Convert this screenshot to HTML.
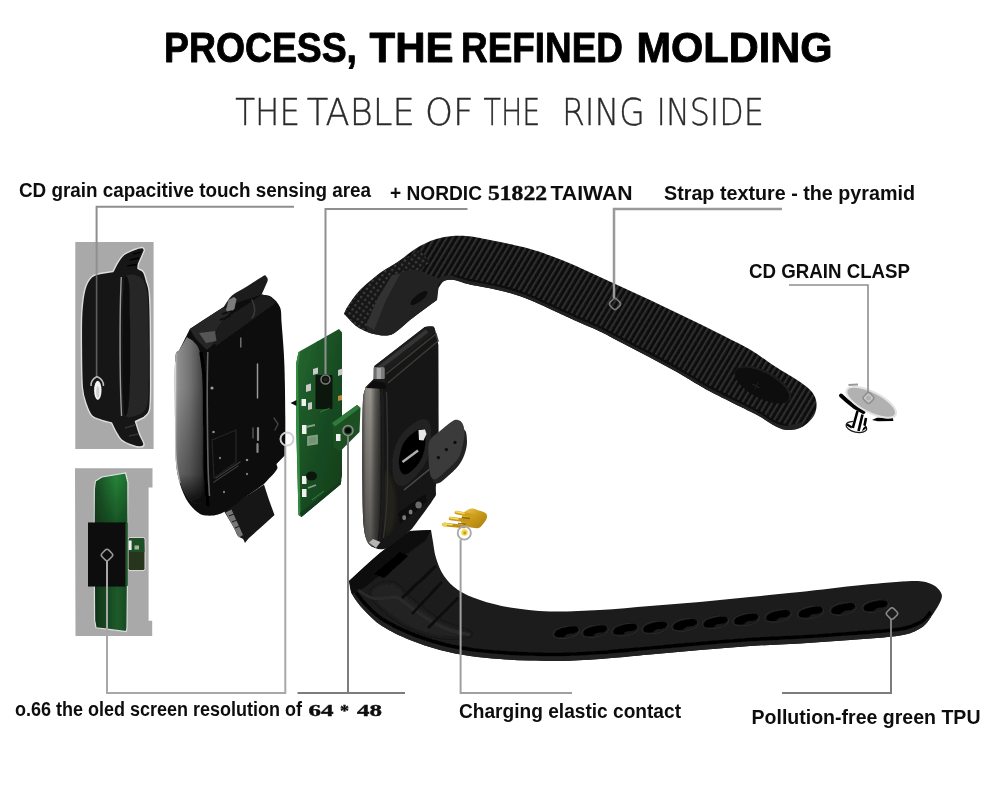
<!DOCTYPE html>
<html lang="en">
<head>
<meta charset="utf-8">
<title>Process, the refined molding</title>
<style>
html,body{margin:0;padding:0;background:#fff;}
body{width:1000px;height:789px;overflow:hidden;position:relative;font-family:"Liberation Sans",sans-serif;}
#stage{position:absolute;left:0;top:0;width:1000px;height:789px;overflow:hidden;background:#fff;}
#art{position:absolute;left:0;top:0;display:block;}
text{font-family:"Liberation Sans",sans-serif;font-weight:bold;font-size:20px;fill:#0d0d0d;stroke:none;}
text.h1{font-size:42.5px;fill:#000;stroke:#000;stroke-width:0.9px;stroke-linejoin:round;}
text.h2{stroke:#2a2a2a;stroke-width:0.35px;font-family:"DejaVu Sans Light","DejaVu Sans","Liberation Sans",sans-serif;font-weight:200;font-size:37px;fill:#2a2a2a;}
.sf{font-family:"Liberation Serif",serif;font-weight:bold;stroke:#0d0d0d;stroke-width:0.4px;}
.s17{font-size:17.5px;}
</style>
</head>
<body>
<div id="stage">
<svg id="art" width="1000" height="789" viewBox="0 0 1000 789">
<defs>
<pattern id="rib" width="5.2" height="10" patternUnits="userSpaceOnUse" patternTransform="rotate(31)">
<rect width="5.2" height="10" fill="#0e0e0e"/><rect x="0" width="2.1" height="10" fill="#2e2e2e"/>
</pattern>
<pattern id="pyr" width="5" height="5" patternUnits="userSpaceOnUse" patternTransform="rotate(35)">
<rect width="5" height="5" fill="#141414"/><rect width="2.4" height="2.4" fill="#3c3c3c"/>
</pattern>
<linearGradient id="face" x1="0" x2="1" y1="0" y2="0">
<stop offset="0" stop-color="#c4c4c4"/><stop offset="0.1" stop-color="#8e8e8e"/><stop offset="0.5" stop-color="#727272"/><stop offset="0.85" stop-color="#4a4a4a"/><stop offset="1" stop-color="#1c1c1c"/>
</linearGradient>
<linearGradient id="metal" x1="0" x2="1" y1="0" y2="0">
<stop offset="0" stop-color="#4c4a47"/><stop offset="0.2" stop-color="#8f8c85"/><stop offset="0.45" stop-color="#9a9790"/><stop offset="0.7" stop-color="#5e5c57"/><stop offset="1" stop-color="#2e2e2c"/>
</linearGradient>
<linearGradient id="pcb" x1="0" x2="1" y1="0" y2="1">
<stop offset="0" stop-color="#256a31"/><stop offset="0.45" stop-color="#1a5024"/><stop offset="1" stop-color="#123c1a"/>
</linearGradient>
<linearGradient id="pcb2" x1="0" x2="1" y1="0" y2="0">
<stop offset="0" stop-color="#164722"/><stop offset="0.65" stop-color="#258238"/><stop offset="1" stop-color="#1d6a2e"/>
</linearGradient>
<linearGradient id="pcb3" x1="0" x2="1" y1="0" y2="0">
<stop offset="0" stop-color="#0f3317"/><stop offset="0.7" stop-color="#1d5a2a"/><stop offset="1" stop-color="#174a22"/>
</linearGradient>
<linearGradient id="gold" x1="0" x2="1" y1="0" y2="1">
<stop offset="0" stop-color="#f0d050"/><stop offset="0.5" stop-color="#c89a18"/><stop offset="1" stop-color="#a87c10"/>
</linearGradient>
<linearGradient id="dk" x1="0" x2="0" y1="0" y2="1">
<stop offset="0" stop-color="#0c2411" stop-opacity="0"/><stop offset="1" stop-color="#0c2411" stop-opacity="0.5"/>
</linearGradient>
<linearGradient id="dk2" x1="0" x2="0" y1="0" y2="1">
<stop offset="0" stop-color="#000" stop-opacity="0"/><stop offset="0.3" stop-color="#000" stop-opacity="0"/><stop offset="0.82" stop-color="#000" stop-opacity="0.3"/><stop offset="1" stop-color="#000" stop-opacity="0.9"/>
</linearGradient>
<linearGradient id="dk3" x1="0" x2="0" y1="0" y2="1">
<stop offset="0" stop-color="#111" stop-opacity="0"/><stop offset="0.3" stop-color="#111" stop-opacity="0.15"/><stop offset="1" stop-color="#111" stop-opacity="0.5"/>
</linearGradient>
<filter id="soft" x="-5%" y="-5%" width="110%" height="110%"><feGaussianBlur stdDeviation="0.6"/></filter>
<filter id="soft2" x="-10%" y="-10%" width="120%" height="120%"><feGaussianBlur stdDeviation="1.4"/></filter>
</defs>
<!-- grey boxes -->
<g id="boxes">
<rect x="75.300" y="242" width="78.300" height="207" fill="#a9a9a9"/>
<path d="M75 468.3H152.5V487.5H148.6V620.7H152.2V636H75.5Z" fill="#a9a9a9"/>
</g>
<!-- side view in box 1 -->
<g id="sideview" filter="url(#soft)">
<path d="M113 271.5C114.7 268.3 116.2 264.8 118 262C119.8 259.2 121.5 256.5 124 254.5C126.5 252.5 130 251.2 133 250C136 248.8 140.1 247.5 142 247.5C143.9 247.5 143.7 249.2 144.5 250C143.5 252.3 142.5 254.7 141.5 257C140.5 259.3 139.1 262.1 138.5 264C137.9 265.9 138.2 267 138 268.5C139.8 269.7 142.1 269.9 143.5 272C144.9 274.1 145.6 277.7 146.5 281C147.4 284.3 148.6 285.5 149.2 292C149.8 298.5 150.1 304.3 150.3 320C150.5 335.7 150.7 371 150.6 386C150.5 401 150.6 404.8 149.5 410C148.4 415.2 145.8 415 144 417.5C141.2 418.8 138.3 420.2 135.5 421.5C136.8 425.7 138.1 430.2 139.5 434C140.9 437.8 143.8 441.8 144 444C144.2 446.2 142.9 446.8 141 447C139.1 447.2 135.8 446.7 132.5 445.5C129.2 444.3 124.3 442.3 121.5 440C118.7 437.7 117.5 434.3 115.8 431.5C114.1 428.7 113 425.8 111.6 423C108.3 422.1 105.1 421.5 101.8 420.3C98.5 419.1 94.5 418.6 92 416C89.5 413.4 88.1 409.8 86.5 405C84.9 400.2 83.1 397 82.3 387C81.5 377 81.5 357.5 81.4 345C81.3 332.5 81.2 321.3 81.8 312C82.4 302.7 83.4 294.8 85 289C86.6 283.2 89 279.6 91.5 277C94 274.4 96.4 274.4 100 273.5C103.6 272.6 108.7 272.2 113 271.5Z" fill="#181818" stroke="#dedede" stroke-width="1.4" stroke-linejoin="round"/>
<path d="M124 279C126.9 271.8 136.2 274.8 140 277C143.8 279.2 145.6 283.2 147 292C148.4 300.8 148.2 313.7 148.5 330C148.8 346.3 148.9 377 148.5 390C148.1 403 147.8 403.8 146 408C144.2 412.2 141.7 414 138 415C134.3 416 126.5 419.8 124 414C121.5 408.2 123.2 395.7 123 380C122.8 364.3 122.3 336.8 122.5 320C122.7 303.2 121.1 286.2 124 279Z" fill="#2b2b2b" opacity="0.75"/>
<path d="M124 279C125.1 272.8 128 276.2 129 283C130 289.8 129.8 303.8 130 320C130.2 336.2 130.3 365 130 380C129.7 395 129 404.3 128 410C127 415.7 124.9 419 124 414C123.1 409 123 395.7 122.8 380C122.5 364.3 122.3 336.8 122.5 320C122.7 303.2 122.9 285.2 124 279Z" fill="#111"/>
<path d="M121.3 277C119.6 310 119.6 380 121.6 416" fill="none" stroke="#9a9a9a" stroke-width="1.4"/>
<path d="M133 254l8 -2M130 260l9 -2M127 266l10 -1.5" stroke="#000" stroke-width="1.6" fill="none"/>
<path d="M125 428l10 -3M129 436l9 -2" stroke="#333" stroke-width="1.6" fill="none"/>
<ellipse cx="97.8" cy="390.3" rx="3.7" ry="9.6" fill="#f4f4f4"/>
<ellipse cx="97.8" cy="392" rx="1.6" ry="6" fill="#cfcfcf"/>
</g>
<!-- pcb in box 2 -->
<g id="oled" filter="url(#soft)">
<path d="M94.4 489C94.7 486.3 95.1 483.7 95.4 481C97.6 479.7 99.8 478.3 102 477C109.9 475.7 117.7 474.3 125.6 473C126.4 476.2 127.1 479.3 127.9 482.5C127.8 496.3 127.6 510.2 127.5 524C116.5 524 105.4 524 94.4 524C94.4 512.3 94.4 500.7 94.4 489Z" fill="url(#pcb2)" stroke="#e4e4e4" stroke-width="1.2"/>
<path d="M94.4 478H127.9V524H94.4Z" fill="url(#dk)"/>
<path d="M94.4 585C105.4 585 116.4 585 127.4 585C127.3 599.3 127.1 613.7 127 628C126.7 629.2 126.5 630.4 126.2 631.6C116.1 630.3 106.1 629.1 96 627.8C95.5 625.2 95.1 622.6 94.6 620C94.5 608.3 94.5 596.7 94.4 585Z" fill="url(#pcb3)" stroke="#dcdcdc" stroke-width="1.2"/>
<rect x="128" y="537.6" width="17" height="33" rx="2" fill="#27351a" stroke="#e0e0e0" stroke-width="1"/>
<path d="M129 538.5H144L144.5 552H129Z" fill="#1f4f25"/>
<rect x="128.6" y="540.5" width="3" height="9.5" fill="#f0f0f0"/>
<rect x="134.5" y="545.5" width="4.5" height="4" fill="#a9b5a0"/>
<rect x="88" y="522.5" width="37.8" height="64" fill="#07070a"/>
<rect x="125.8" y="523" width="2" height="63" fill="#1b5a2a"/>
</g>
<!-- main front case -->
<g id="frontcase" filter="url(#soft)">
<path d="M224 511C237.3 502.2 250.7 493.3 264 484.5C265.7 489.7 267.2 494.9 269 500C270.8 505.1 272.7 510 274.5 515C266 522.7 257.5 530.3 249 538C248.2 539 247.2 540.2 246.5 541C245.8 541.8 245.5 542.3 245 543C244.3 541.7 244.2 540.2 243 539C241.8 537.8 239.5 537.8 238 536C236.5 534.2 236.3 532.2 234 528C231.7 523.8 227.3 516.7 224 511Z" fill="#141414"/>
<path d="M225.5 512.5L231.5 509.5L243 535L239 537.5Z" fill="#777"/>
<path d="M229 516l5 -2M232 522l5 -2M235 528l5 -2" stroke="#222" stroke-width="1.2" fill="none"/>
<path d="M223 308C226 303.9 228.2 299.1 232 295.6C235.8 292.1 240.9 290.2 246 287C251.1 283.8 259.3 278.5 262.5 276.5C265.7 274.5 264.2 275.5 265 275C265.9 276.5 267.8 277.5 267.8 279.5C267.8 281.5 266 284.6 265 287C264 289.4 262.9 291.7 261.9 294C259.9 297.3 258 300.7 256 304C245 305.3 234 306.7 223 308Z" fill="#1e1e1e"/>
<path d="M175.2 359.7C176 348.3 177.6 353.6 179.6 349.5C181.6 345.4 185.2 338.4 186.9 335C188.6 331.6 188.8 331 189.8 329C201 321.8 212.1 314.5 223.3 307.3C236.2 303 249 298.8 261.9 294.5C265.1 295.3 268.4 294.9 271.4 297C274.4 299.1 278.3 302.9 280 307.3C281.7 311.7 281 315.8 281.6 323.3C282.2 330.8 283.3 342.9 283.8 352.4C284.3 361.8 284.6 369.1 284.8 380C285.1 390.9 285.2 405.5 285.3 418C285.4 430.5 285.2 442.7 285.2 455C282.3 458 279.4 461 276.5 464C276.5 466 278.6 466.7 276.5 470C274.4 473.3 268.2 479.3 264 484C252.7 492 237.7 502.9 230 508C222.3 513.1 222 513.2 218 514.5C214 515.8 209.3 515.8 206 515.5C202.7 515.2 201 514.8 198 512.5C195 510.2 191 506.8 188 502C185 497.2 182 491 180 484C178 477 176.6 471 175.8 460C175 449 175.1 434.7 175 418C174.9 401.3 174.4 371.1 175.2 359.7Z" fill="#0a0a0a"/>
<path d="M175.2 359.7C176 348.3 177.6 353.3 179.6 349.5C181.6 345.7 184.5 341.2 186.9 337C189.3 338.7 191.8 339.4 194 342C196.2 344.6 198.6 346.1 200 352.4C201.4 358.7 202 368.7 202.5 380C203 391.3 202.8 405 203 420C203.2 435 203.1 456.7 203.5 470C203.9 483.3 204.8 490 205.5 500C203 501.3 200.9 504.3 198 504C195.1 503.7 191 501.7 188 498C185 494.3 182 488.3 180 482C178 475.7 176.6 470.7 175.8 460C175 449.3 175.1 434.7 175 418C174.9 401.3 174.4 371.1 175.2 359.7Z" fill="url(#face)"/>
<path d="M175.2 359.7C176 348.3 177.6 353.3 179.6 349.5C181.6 345.7 184.5 341.2 186.9 337C189.3 338.7 191.8 339.4 194 342C196.2 344.6 198.6 346.1 200 352.4C201.4 358.7 202 368.7 202.5 380C203 391.3 202.8 405 203 420C203.2 435 203.1 456.7 203.5 470C203.9 483.3 204.8 490 205.5 500C203 501.3 200.9 504.3 198 504C195.1 503.7 191 501.7 188 498C185 494.3 182 488.3 180 482C178 475.7 176.6 470.7 175.8 460C175 449.3 175.1 434.7 175 418C174.9 401.3 174.4 371.1 175.2 359.7Z" fill="url(#dk2)"/>
<path d="M175.4 362C175.3 371.3 174.9 402 175 418C175.1 434 175.1 447.2 175.9 458C176.7 468.8 179.3 478.8 180 483" fill="none" stroke="#f4f4f4" stroke-width="1.4" opacity="0.55"/>
<path d="M201 352C201.6 356.7 203.8 368.7 204.5 380C205.2 391.3 204.8 405 205 420C205.2 435 205 455.7 205.5 470C206 484.3 207.6 500 208 506" fill="none" stroke="#060606" stroke-width="3.6"/>
<path d="M207.8 352C207.7 356.7 207.4 368.7 207.3 380C207.2 391.3 207.2 405 207.4 420C207.6 435 207.8 457.3 208.2 470C208.5 482.7 209.3 491.7 209.5 496" fill="none" stroke="#6c6c6c" stroke-width="1.6" opacity="0.9"/>
<path d="M189.8 329C201 321.8 212.1 314.5 223.3 307.3C226.2 307.9 232.2 306.6 232 309C231.8 311.4 224.7 318.2 222 322C219.3 325.8 217.3 328.5 216 332C214.7 335.5 215.5 340 214 343C212.5 346 209.3 347.7 207 350C203.3 346.3 198.9 342.5 196 339C193.1 335.5 191.9 332.3 189.8 329Z" fill="#262626"/>
<path d="M214 343C216.7 336 214 330.1 222 322C230 313.9 248.6 303.7 261.9 294.5C265.1 295.3 268.2 296.2 271.4 297C272.9 299 274.5 301 276 303C256 317.3 236 331.7 216 346C215.3 345 214.7 344 214 343Z" fill="#1b1b1b"/>
<path d="M226 310L228.500 300L234 297L236.500 299L234.500 309L229 313Z" fill="#7c7c7c"/>
<path d="M199 333L215 331L216.500 341L206 343Z" fill="#5a5a5a" opacity="0.9"/>
<path d="M222 314l10 -3M220 320l10 -4" stroke="#0a0a0a" stroke-width="1.600" fill="none"/>
<g fill="none" stroke-linecap="round">
<path d="M240.800 338V347" stroke="#777" stroke-width="1.400"/>
<path d="M257.500 364V398" stroke="#9a9a9a" stroke-width="1.500"/>
<path d="M252 300c4 8 3 14 0 18" stroke="#3a3a3a" stroke-width="1.500"/>
<path d="M258 428V440M257.500 444V452" stroke="#8a8a8a" stroke-width="2.200"/>
<path d="M253 428V438" stroke="#555" stroke-width="1.500"/>
<path d="M216 478L240 462M214 482L238 466" stroke="#3a3a3a" stroke-width="1.500"/>
<path d="M274 418l4 6l-3 6" stroke="#444" stroke-width="1.400"/>
<path d="M212 440L236 430V462L214 478Z" stroke="#202020" stroke-width="1.500"/>
</g>
<circle cx="212" cy="388" r="1.600" fill="#9a9a9a"/><circle cx="213.500" cy="432" r="1.300" fill="#8a8a8a"/><circle cx="247" cy="460" r="1.300" fill="#8a8a8a"/><circle cx="247" cy="474" r="1.200" fill="#777"/><circle cx="220" cy="458" r="1.200" fill="#777"/><circle cx="224" cy="492" r="1.200" fill="#777"/>
</g>
<!-- centre pcb -->
<g id="pcbmid" filter="url(#soft)">
<path d="M296 364L298.500 352L318 341L339 329L342 332.500V476L340.500 484.500L301.500 517L298.500 515L296 418Z" fill="url(#pcb)"/>
<path d="M296 364L298.500 352L300 352L298 366L300.500 516.500L298.500 515L296 418Z" fill="#348a42"/>
<path d="M301.500 517L340.500 484.500L341.500 480L300 513Z" fill="#123a1a"/>
<path d="M318 341v12M322 339v10" stroke="#1c5226" stroke-width="1" fill="none"/>
<rect x="315.500" y="375" width="17" height="34" rx="1" fill="#0d120e"/>
<path d="M332 423L357 405L360.500 408L359.500 432L340 451.500L333.500 447.500Z" fill="#1a4f23"/>
<path d="M332 423L357 405L360.500 407.500L335 426.500Z" fill="#2f7a3a"/>
<g fill="#f0f0f0"><rect x="301.500" y="399" width="4.500" height="7"/><rect x="302" y="425" width="4.500" height="9"/><rect x="302" y="476" width="4.500" height="8"/><rect x="302" y="489" width="4.500" height="8"/><rect x="336" y="434" width="4.500" height="7"/></g>
<g fill="#c9c9c9"><path d="M313 369l5 -1.500v6l-5 1.500z"/><path d="M306 385l5 -1.500v7l-5 1.500z"/><path d="M338 370l4.500 -1.500v6l-4.500 1.500z"/><path d="M308 403l4 -1v7l-4 1z"/><path d="M338 396l4 -1v5l-4 1z" fill="#c08a3a"/></g>
<path d="M306 427l9 -2M308 437l9 -1.500v8l-9 1.500zM308 488l8 -3" stroke="#9ab59a" stroke-width="1.800" fill="#8aa58a" opacity="0.8"/>
<ellipse cx="311.500" cy="476" rx="5.500" ry="4.500" fill="#0e160f"/>
<path d="M290.500 403L296.500 400V406Z" fill="#111"/>
<path d="M320 412l10 -4M312 500l12 -9" stroke="#3c8f49" stroke-width="1.200" fill="none" opacity="0.6"/>
</g>
<!-- back case -->
<g id="backcase" filter="url(#soft)">
<path d="M374.4 366C391.2 353 408 340 424.8 327C426.2 326.7 427.5 326.2 429 326.2C430.5 326.2 432.5 325.9 433.6 326.8C434.7 327.7 434.7 328.5 435.5 331.5C436.3 334.5 437.4 340.5 438.4 345C438.5 370 438.6 399.2 438.6 420C438.6 440.8 438.8 459.2 438.4 470C438 480.8 436.4 480.8 436 485C435.6 489.2 436 491.7 436 495C433.9 498.3 433.6 499.2 429.6 504.8C425.6 510.4 417.9 520.8 412 528.8C406.3 534.2 399.7 541.6 395 545C390.3 548.4 387.3 548.5 384 549C380.7 549.5 377.8 549.2 375 548C372.2 546.8 369.4 546 367.5 542C365.6 538 364.4 534.3 363.5 524C362.6 513.7 362.6 494.7 362.4 480C362.2 465.3 362.3 449.3 362.4 436C362.5 422.7 362.5 408.2 363 400C363.5 391.8 364.7 391.3 365.6 387C368.3 384.3 370.9 381.7 373.6 379C373.9 374.7 374.1 370.3 374.4 366Z" fill="#171717"/>
<path d="M384 470C385.5 465 390 475 392 480C394 485 395.7 492.5 396 500C396.3 507.5 395.7 519.2 394 525C392.3 530.8 387.8 537.5 386 535C384.2 532.5 383.3 520.8 383 510C382.7 499.2 382.5 475 384 470Z" fill="#2a251a" opacity="0.6" filter="url(#soft2)"/>
<path d="M363 400C363.5 391.9 364.7 391.7 365.6 387.5C367.7 386.8 369.8 385.4 372 385.5C374.2 385.6 377.6 385.6 379 388C380.4 390.4 380.2 391.3 380.5 400C380.8 408.7 380.8 425 380.8 440C380.8 455 380.7 476.7 380.5 490C380.3 503.3 380 511.7 379.5 520C379 528.3 378.4 535.6 377.5 540C376.6 544.4 375.2 544.3 374 546.5C371.8 545 369.2 545.8 367.5 542C365.8 538.2 364.4 534.3 363.5 524C362.6 513.7 362.6 494.7 362.4 480C362.2 465.3 362.3 449.3 362.4 436C362.5 422.7 362.5 408.1 363 400Z" fill="url(#metal)"/>
<path d="M363 400C363.5 391.9 364.7 391.7 365.6 387.5C367.7 386.8 369.8 385.4 372 385.5C374.2 385.6 377.6 385.6 379 388C380.4 390.4 380.2 391.3 380.5 400C380.8 408.7 380.8 425 380.8 440C380.8 455 380.7 476.7 380.5 490C380.3 503.3 380 511.7 379.5 520C379 528.3 378.4 535.6 377.5 540C376.6 544.4 375.2 544.3 374 546.5C371.8 545 369.2 545.8 367.5 542C365.8 538.2 364.4 534.3 363.5 524C362.6 513.7 362.6 494.7 362.4 480C362.2 465.3 362.3 449.3 362.4 436C362.5 422.7 362.5 408.1 363 400Z" fill="url(#dk3)"/>
<path d="M382 389C382.2 397.5 383.1 421.5 383.2 440C383.3 458.5 383.3 483.3 382.7 500C382.1 516.7 380 533.3 379.5 540" fill="none" stroke="#1a1a1a" stroke-width="3.500"/>
<path d="M386.5 392C386.7 400 387.4 422 387.5 440C387.6 458 387.7 483.7 387 500C386.3 516.3 384.1 531.7 383.5 538" fill="none" stroke="#34322e" stroke-width="1.400"/>
<path d="M374.400 366L424.800 327L433.600 326.800L435.500 331.500L386 372L385 383L374 379Z" fill="#1f1f1f"/>
<path d="M377 369.500L427 331" stroke="#343434" stroke-width="4" fill="none"/>
<path d="M386 374L436 334L438 341L388 383" fill="none" stroke="#3c3a36" stroke-width="1.500"/>
<rect x="373.600" y="367.400" width="10.800" height="11.600" rx="1.500" fill="#a6a6a6"/>
<rect x="373.600" y="367.400" width="3" height="11.600" fill="#6e6e6e"/>
<rect x="381" y="367.400" width="3.400" height="11.600" fill="#7c7c7c"/>
<path d="M366 388L374 381L385 383L386 389Z" fill="#0c0c0c"/>
<path d="M376 548L369 542.500L373 539L380.500 542Z" fill="#b5b5b5"/>
<path d="M393 456C393.9 451 395.5 444.7 398 440C400.5 435.3 404.3 431.3 408 428C411.7 424.7 416.7 421.2 420 420C423.3 418.8 426.2 419.3 428 421C429.8 422.7 430.6 425.8 431 430C431.4 434.2 431.3 440.7 430.5 446C429.7 451.3 428.8 456.7 426 462C423.2 467.3 417.8 474 414 478C410.2 482 406.2 485.3 403 486C399.8 486.7 396.8 484.7 395 482C393.2 479.3 392.8 474.3 392.5 470C392.2 465.7 392.1 461 393 456Z" fill="#242321"/>
<path d="M399.5 456C400.2 452.7 401.1 447.6 403 444C404.9 440.4 408.2 437 411 434.5C413.8 432 417.8 429.6 420 429C422.2 428.4 423.6 429.2 424.5 431C425.4 432.8 425.6 436.5 425.5 440C425.4 443.5 425.1 448.2 424 452C422.9 455.8 421.2 459.8 419 463C416.8 466.2 413.4 469.6 411 471.5C408.6 473.4 406.2 474.6 404.5 474.5C402.8 474.4 401.4 472.8 400.5 471C399.6 469.2 399.2 466.5 399 464C398.8 461.5 398.8 459.3 399.5 456Z" fill="#040404"/>
<path d="M402.500 462L418 450.500" stroke="#b0b0b0" stroke-width="2.400" fill="none"/>
<path d="M418.500 430L425 429.500L426.500 434L423.500 440.500L419 440Z" fill="#e6e6e6"/>
<path d="M404 490L431 468" stroke="#4c4c4c" stroke-width="1.600" fill="none"/>
<path d="M398 513L425 494L427 502L400 524Z" fill="#090909"/>
<ellipse cx="404.200" cy="517.600" rx="2" ry="2.600" fill="#7a7a7a"/><ellipse cx="410.600" cy="512" rx="2" ry="2.600" fill="#7a7a7a"/><ellipse cx="418.600" cy="505" rx="3.200" ry="3.600" fill="#6a6a6a"/>
<path d="M430 460C431.2 454.8 435.8 454 440 450C444.2 446 450.9 439.3 455 436C459.1 432.7 462.5 429.2 464.5 430C466.5 430.8 466.9 437.2 467 441C467.1 444.8 466.3 449 465 453C463.7 457 462 461 459 465C456 469 450.3 474 447 477C443.7 480 441.3 482.3 439 483C436.7 483.7 434.5 484.8 433 481C431.5 477.2 428.8 465.2 430 460Z" fill="#242424"/>
<path d="M429.5 441C431.4 436.8 436.2 434.2 440 431C443.8 427.8 449 423.3 452 421.5C455 419.7 456.2 419.7 458 420C459.8 420.3 461.4 421.5 462.5 423.5C463.6 425.5 464.4 428.6 464.5 432C464.6 435.4 464 439.7 463 444C462 448.3 461 453.8 458.5 458C456 462.2 451.6 465.6 448 469C444.4 472.4 439.7 477 437 478.5C434.3 480 433.2 479.2 432 478C430.8 476.8 430.1 474.7 429.5 471C428.9 467.3 428.5 461 428.5 456C428.5 451 427.6 445.2 429.5 441Z" fill="#3a3a3a"/>
<circle cx="438.400" cy="457.600" r="1.600" fill="#0c0c0c"/><circle cx="446.400" cy="449.600" r="1.600" fill="#0c0c0c"/><circle cx="455" cy="442.400" r="1.600" fill="#0c0c0c"/>
</g>
<!-- gold contact -->
<g id="goldpin" filter="url(#soft)">
<path d="M465 511.5C466.7 510.2 469.7 508.7 472 508.5C474.3 508.3 476.7 509.7 479 510.5C481.3 511.3 484.7 512.2 486 513.5C487.3 514.8 487.2 516.8 486.7 518.5C486.2 520.2 484.4 522.4 483 524C481.6 525.6 480.6 527.5 478.3 528C476 528.5 472 527.8 469.2 527C466.4 526.2 462.7 525.3 461.5 523.5C460.3 521.7 461.4 518 462 516C462.6 514 463.3 512.8 465 511.5Z" fill="url(#gold)"/>
<g fill="none" stroke-linecap="round" stroke-width="3.600">
<path d="M456.500 512.500L472 515.500" stroke="#cf9f1c"/>
<path d="M450.500 518.500L469.500 521" stroke="#c89618"/>
<path d="M444 524.500L464 526.500" stroke="#c08c14"/>
</g>
<g fill="none" stroke-linecap="round" stroke-width="1.500" stroke="#f6de60">
<path d="M456 511.800L464 513.300M450 517.800L458 518.900M443.500 523.800L452 524.700"/>
</g>
<path d="M462 517.500L470 518.500M458 523.300L466 524.200" stroke="#7a560a" stroke-width="1.300" fill="none" opacity="0.8"/>
<circle cx="445" cy="524.500" r="2.200" fill="#f2d648"/>
</g>
<!-- top strap -->
<g id="strapTop" filter="url(#soft)">
<clipPath id="cTop"><path d="M344 314C345.3 311.3 345.3 310 348 306C350.7 302 354.7 295.5 360 290C365.3 284.5 374 277.5 380 273C386 268.5 389.3 267.5 396 263C402.7 258.5 412.3 250.2 420 246C427.7 241.8 434.3 239.2 442 237.5C449.7 235.8 458 235.6 466 236C474 236.4 480.2 238.1 490 240C499.8 241.9 515 244.9 525 247.5C535 250.1 541.7 252.5 550 255.5C558.3 258.5 566.7 261.9 575 265.5C583.3 269.1 591.7 273.2 600 277C608.3 280.8 616.7 284.7 625 288.5C633.3 292.3 641.7 296.1 650 300C658.3 303.9 666.7 308 675 312C683.3 316 691.7 319.9 700 324C708.3 328.1 716.7 332.2 725 336.5C733.3 340.8 741.5 344.4 750 349.5C758.5 354.6 767.8 361.7 776 367C784.2 372.3 793.5 377.3 799.5 381.5C805.5 385.7 809.2 388.4 812 392C814.8 395.6 816.2 399.1 816.5 403C816.8 406.9 816.2 411.6 814 415.5C811.8 419.4 807.2 424.1 803 426.5C798.8 428.9 793 430 788.5 430C784 430 781.1 428.9 776 426.5C770.9 424.1 764 418.8 758 415.5C752 412.2 747.7 410.3 740 406.5C732.3 402.7 718.7 395.9 712 392.5C705.3 389.1 706.2 389.4 700 385.8C693.8 382.2 683.3 375.7 675 371C666.7 366.3 658.3 361.9 650 357.5C641.7 353.1 633.3 348.8 625 344.5C616.7 340.2 608.3 335.5 600 331.5C591.7 327.5 583.3 324.2 575 320.5C566.7 316.8 558.3 312.8 550 309C541.7 305.2 533.3 301.1 525 298C516.7 294.9 509.2 292.8 500 290.5C490.8 288.2 477.7 286.2 470 284.5C462.3 282.8 458.3 280.6 454 280C449.7 279.4 446.6 279.7 444 281C441.4 282.3 440.3 285.7 438.5 288C438 292 437.5 296 437 300C433.3 302.7 430.5 304.7 426 308C421.5 311.3 415 316 410 320C405 324 400 329.4 396 332C392 334.6 390.3 335.4 386 335.6C381.7 335.8 375 334.6 370 333C365 331.4 360.3 329.2 356 326C351.7 322.8 348 318 344 314Z"/></clipPath>
<g clip-path="url(#cTop)">
<rect x="340" y="230" width="480" height="205" fill="url(#rib)"/>
<path d="M344 313L348 306L360 290L380 273L396 263L420 250L430 262L398 290L380 320L372 334L356 326Z" fill="url(#pyr)"/>
<path d="M392 275C399.3 273.3 406 269.3 414 270C422 270.7 431.3 276 440 279C439.3 282.7 438.5 286.5 438 290C437.5 293.5 437.3 296.7 437 300C423.3 310.7 404.5 326 396 332C387.5 338 390.3 335.8 386 336C381.7 336.2 373.3 335.3 370 333.5C366.7 331.7 367.3 327.8 366 325C370 316 373.7 306.3 378 298C382.3 289.7 387.3 282.7 392 275Z" fill="#242424"/>
<path d="M366 325L378 298L392 275L400 274L386 300L374 330Z" fill="#363636" opacity="0.8"/>
<ellipse cx="419" cy="298" rx="10.500" ry="3.600" transform="rotate(-38 419 298)" fill="#0c0c0c"/>
<path d="M440 281C442.3 280.8 449 279.4 454 280C459 280.6 462.3 282.8 470 284.5C477.7 286.2 490.8 288.2 500 290.5C509.2 292.8 516.7 294.9 525 298C533.3 301.1 541.7 305.2 550 309C558.3 312.8 566.7 316.8 575 320.5C583.3 324.2 591.7 327.5 600 331.5C608.3 335.5 616.7 340.2 625 344.5C633.3 348.8 641.7 353.1 650 357.5C658.3 361.9 666.7 366.3 675 371C683.3 375.7 693.8 382.2 700 385.8C706.2 389.4 705.3 389.1 712 392.5C718.7 395.9 732.3 402.7 740 406.5C747.7 410.3 752 412.2 758 415.5C764 418.8 770.9 424.1 776 426.5C781.1 428.9 784 430 788.5 430C793 430 800.6 427.1 803 426.5" fill="none" stroke="#202020" stroke-width="9"/>
<path d="M453.5 275.4C456.2 276.1 461.8 278.1 469.5 279.9C477.2 281.6 490.3 283.6 499.5 285.9C508.7 288.1 516.2 290.3 524.5 293.4C532.8 296.5 541.2 300.6 549.5 304.4C557.8 308.1 566.2 312.1 574.5 315.9C582.8 319.6 591.2 322.9 599.5 326.9C607.8 330.9 616.2 335.6 624.5 339.9C632.8 344.2 641.2 348.5 649.5 352.9C657.8 357.3 666.2 361.7 674.5 366.4C682.8 371.1 693.3 377.6 699.5 381.2C705.7 384.8 704.8 384.4 711.5 387.9C718.2 391.3 731.8 398.1 739.5 401.9C747.2 405.7 751.5 407.6 757.5 410.9C763.5 414.2 770.4 419.5 775.5 421.9C780.6 424.3 785.9 424.8 788 425.4" fill="none" stroke="#070707" stroke-width="1.800"/>
<ellipse cx="763" cy="384.500" rx="31" ry="13.500" transform="rotate(28 763 384.500)" fill="#1d1d1d"/><ellipse cx="762" cy="385.500" rx="30" ry="12.500" transform="rotate(28 762 385.500)" fill="#070707"/>
<path d="M752 384l8 4m-2 -6l-3 8" stroke="#1c1c1c" stroke-width="1.500"/>
</g></g>
<!-- bottom strap -->
<g id="strapBottom" filter="url(#soft)">
<path d="M349 581C359.3 571.7 369.8 561.3 380 553C390.2 544.7 400 538.3 410 531C417 530.7 424 530.3 431 530C431.7 534 432.2 537.3 433 542C433.8 546.7 434.2 552.3 436 558C437.8 563.7 440.3 570.7 444 576C447.7 581.3 452 586 458 590C464 594 471.3 597.1 480 600C488.7 602.9 498.3 605.6 510 607.5C521.7 609.4 535 611.1 550 611.5C565 611.9 583.3 610.9 600 610C616.7 609.1 633.3 607.3 650 606C666.7 604.7 683.3 603.5 700 602C716.7 600.5 733.3 598.7 750 597C766.7 595.3 781.3 594 800 592C818.7 590 843.3 586.8 862 585C880.7 583.2 900.7 581.2 912 581C923.3 580.8 925.3 581.8 930 583.5C934.7 585.2 938.2 588.2 940 591C941.8 593.8 942.7 595.4 941 600C939.3 604.6 933.5 613.8 930 618.5C926.5 623.2 925 625.7 920 628.5C915 631.3 911.7 633.6 900 635.5C888.3 637.4 866.7 638.7 850 640C833.3 641.3 816.7 642.5 800 643.5C783.3 644.5 766.7 644.9 750 646C733.3 647.1 716.7 648.6 700 650C683.3 651.4 666.7 653 650 654.5C633.3 656 615 657.9 600 659C585 660.1 571.7 660.8 560 661C548.3 661.2 540 660.8 530 660.5C520 660.2 510 659.8 500 659C490 658.2 480 657.5 470 656C460 654.5 450 652.7 440 650C430 647.3 419.7 644 410 640C400.3 636 389.7 631 382 626C374.3 621 369 615.3 364 610C359 604.7 354.5 598.8 352 594C349.5 589.2 350 585.3 349 581Z" fill="#1a1a1a"/>
<clipPath id="cBot"><path d="M349 581C359.3 571.7 369.8 561.3 380 553C390.2 544.7 400 538.3 410 531C417 530.7 424 530.3 431 530C431.7 534 432.2 537.3 433 542C433.8 546.7 434.2 552.3 436 558C437.8 563.7 440.3 570.7 444 576C447.7 581.3 452 586 458 590C464 594 471.3 597.1 480 600C488.7 602.9 498.3 605.6 510 607.5C521.7 609.4 535 611.1 550 611.5C565 611.9 583.3 610.9 600 610C616.7 609.1 633.3 607.3 650 606C666.7 604.7 683.3 603.5 700 602C716.7 600.5 733.3 598.7 750 597C766.7 595.3 781.3 594 800 592C818.7 590 843.3 586.8 862 585C880.7 583.2 900.7 581.2 912 581C923.3 580.8 925.3 581.8 930 583.5C934.7 585.2 938.2 588.2 940 591C941.8 593.8 942.7 595.4 941 600C939.3 604.6 933.5 613.8 930 618.5C926.5 623.2 925 625.7 920 628.5C915 631.3 911.7 633.6 900 635.5C888.3 637.4 866.7 638.7 850 640C833.3 641.3 816.7 642.5 800 643.5C783.3 644.5 766.7 644.9 750 646C733.3 647.1 716.7 648.6 700 650C683.3 651.4 666.7 653 650 654.5C633.3 656 615 657.9 600 659C585 660.1 571.7 660.8 560 661C548.3 661.2 540 660.8 530 660.5C520 660.2 510 659.8 500 659C490 658.2 480 657.5 470 656C460 654.5 450 652.7 440 650C430 647.3 419.7 644 410 640C400.3 636 389.7 631 382 626C374.3 621 369 615.3 364 610C359 604.7 354.5 598.8 352 594C349.5 589.2 350 585.3 349 581Z"/></clipPath>
<g clip-path="url(#cBot)">
<path d="M352.5 591.5C354.5 594.2 359.5 602.2 364.5 607.5C369.5 612.8 374.8 618.5 382.5 623.5C390.2 628.5 400.8 633.5 410.5 637.5C420.2 641.5 430.5 644.8 440.5 647.5C450.5 650.2 460.5 652 470.5 653.5C480.5 655 490.5 655.8 500.5 656.5C510.5 657.2 520.5 657.7 530.5 658C540.5 658.3 548.8 658.8 560.5 658.5C572.2 658.2 585.5 657.6 600.5 656.5C615.5 655.4 633.8 653.5 650.5 652C667.2 650.5 683.8 648.9 700.5 647.5C717.2 646.1 733.8 644.6 750.5 643.5C767.2 642.4 783.8 642 800.5 641C817.2 640 833.8 638.8 850.5 637.5C867.2 636.2 888.8 634.9 900.5 633C912.2 631.1 915.5 628.8 920.5 626C925.5 623.2 928.8 617.7 930.5 616" fill="none" stroke="#222" stroke-width="9"/>
<path d="M352.8 587.5C354.8 590.2 359.8 598.2 364.8 603.5C369.8 608.8 375.1 614.5 382.8 619.5C390.5 624.5 401.1 629.5 410.8 633.5C420.5 637.5 430.8 640.8 440.8 643.5C450.8 646.2 460.8 648 470.8 649.5C480.8 651 490.8 651.8 500.8 652.5C510.8 653.2 520.8 653.7 530.8 654C540.8 654.3 549.1 654.8 560.8 654.5C572.5 654.2 585.8 653.6 600.8 652.5C615.8 651.4 634.1 649.5 650.8 648C667.5 646.5 684.1 644.9 700.8 643.5C717.5 642.1 734.1 640.6 750.8 639.5C767.5 638.4 784.1 638 800.8 637C817.5 636 834.1 634.8 850.8 633.5C867.5 632.2 889.1 630.9 900.8 629C912.5 627.1 915.8 624.8 920.8 622C925.8 619.2 929.1 613.7 930.8 612" fill="none" stroke="#050505" stroke-width="3.6"/>
<path d="M372 592C373 587.7 385.7 582.7 392 584C398.3 585.3 402 593.7 410 600C418 606.3 430 616.3 440 622C450 627.7 470 631.7 470 634C470 636.3 450 637.3 440 636C430 634.7 419 630.3 410 626C401 621.7 392.3 615.7 386 610C379.7 604.3 371 596.3 372 592Z" fill="#2c2c2c" opacity="0.6" filter="url(#soft2)"/>
</g>
<path d="M349 581L380 553L410 531L431 530L426 540L396 562L364 588L352 594Z" fill="#101010"/>
<path d="M374 574L400 552L408 556L384 578Z" fill="#000"/>
<path d="M358 590C360.3 591.3 367 596.7 372 598C377 599.3 383.7 598 388 598C392.3 598 392.7 595.3 398 598C403.3 600.7 412.3 609 420 614C427.7 619 435.7 624.5 444 628C452.3 631.5 465.7 633.8 470 635" fill="none" stroke="#303030" stroke-width="3" opacity="0.700"/>
<path d="M402 598L436 566M412 614L442 582M428 628L458 598" stroke="#070707" stroke-width="2.500" fill="none"/>
<g fill="none" stroke="#2a2a2a" stroke-width="1">
<ellipse cx="566.3" cy="632.3" rx="13.5" ry="6" transform="rotate(-9 566.3 632.3)"/>
<ellipse cx="595" cy="631.2" rx="13.5" ry="6" transform="rotate(-9 595 631.2)"/>
<ellipse cx="625" cy="629.8" rx="13.5" ry="6" transform="rotate(-9 625 629.8)"/>
<ellipse cx="655" cy="627.5" rx="13.5" ry="6" transform="rotate(-9 655 627.5)"/>
<ellipse cx="685" cy="625" rx="13.5" ry="6" transform="rotate(-9 685 625)"/>
<ellipse cx="715.5" cy="622.4" rx="13.5" ry="6" transform="rotate(-9 715.5 622.4)"/>
<ellipse cx="746" cy="619.6" rx="13.5" ry="6" transform="rotate(-9 746 619.6)"/>
<ellipse cx="778" cy="616" rx="13.5" ry="6" transform="rotate(-9 778 616)"/>
<ellipse cx="810.5" cy="612.6" rx="13.5" ry="6" transform="rotate(-9 810.5 612.6)"/>
<ellipse cx="843" cy="609" rx="13.5" ry="6" transform="rotate(-9 843 609)"/>
<ellipse cx="875.5" cy="606.2" rx="13.5" ry="6" transform="rotate(-9 875.5 606.2)"/>
</g>
<g fill="#020202">
<path d="M554.8 633.8C555.1 632.8 555.7 631.3 557.3 630.3C558.9 629.3 561.8 628.5 564.3 627.8C566.8 627.1 570.1 626.4 572.3 626.3C574.5 626.2 576.3 626.6 577.3 627.3C578.3 628 578.8 629.3 578.3 630.3C577.8 631.3 575.8 632.7 574.3 633.3C572.8 633.9 570.6 633.5 569.3 633.8C568 634 567.1 634.3 566.3 634.8C565.5 635.3 565.5 636.4 564.3 636.8C563.1 637.2 560.8 637.4 559.3 637.3C557.8 637.2 556 636.9 555.3 636.3C554.5 635.7 554.5 634.8 554.8 633.8Z"/>
<path d="M583.5 632.7C583.8 631.7 584.4 630.2 586 629.2C587.6 628.2 590.5 627.4 593 626.7C595.5 626 598.8 625.3 601 625.2C603.2 625.1 605 625.5 606 626.2C607 626.9 607.5 628.2 607 629.2C606.5 630.2 604.5 631.6 603 632.2C601.5 632.8 599.3 632.5 598 632.7C596.7 633 595.8 633.2 595 633.7C594.2 634.2 594.2 635.3 593 635.7C591.8 636.1 589.5 636.3 588 636.2C586.5 636.1 584.8 635.8 584 635.2C583.2 634.6 583.2 633.7 583.5 632.7Z"/>
<path d="M613.5 631.3C613.8 630.3 614.4 628.8 616 627.8C617.6 626.8 620.5 626 623 625.3C625.5 624.6 628.8 623.9 631 623.8C633.2 623.7 635 624.1 636 624.8C637 625.5 637.5 626.8 637 627.8C636.5 628.8 634.5 630.2 633 630.8C631.5 631.4 629.3 631 628 631.3C626.7 631.5 625.8 631.8 625 632.3C624.2 632.8 624.2 633.9 623 634.3C621.8 634.7 619.5 634.9 618 634.8C616.5 634.7 614.8 634.4 614 633.8C613.2 633.2 613.2 632.3 613.5 631.3Z"/>
<path d="M643.5 629C643.8 628 644.4 626.5 646 625.5C647.6 624.5 650.5 623.7 653 623C655.5 622.3 658.8 621.6 661 621.5C663.2 621.4 665 621.8 666 622.5C667 623.2 667.5 624.5 667 625.5C666.5 626.5 664.5 627.9 663 628.5C661.5 629.1 659.3 628.8 658 629C656.7 629.2 655.8 629.5 655 630C654.2 630.5 654.2 631.6 653 632C651.8 632.4 649.5 632.6 648 632.5C646.5 632.4 644.8 632.1 644 631.5C643.2 630.9 643.2 630 643.5 629Z"/>
<path d="M673.5 626.5C673.8 625.5 674.4 624 676 623C677.6 622 680.5 621.2 683 620.5C685.5 619.8 688.8 619.1 691 619C693.2 618.9 695 619.3 696 620C697 620.7 697.5 622 697 623C696.5 624 694.5 625.4 693 626C691.5 626.6 689.3 626.2 688 626.5C686.7 626.8 685.8 627 685 627.5C684.2 628 684.2 629.1 683 629.5C681.8 629.9 679.5 630.1 678 630C676.5 629.9 674.8 629.6 674 629C673.2 628.4 673.2 627.5 673.5 626.5Z"/>
<path d="M704 623.9C704.3 622.9 704.9 621.4 706.5 620.4C708.1 619.4 711 618.6 713.5 617.9C716 617.2 719.3 616.5 721.5 616.4C723.7 616.3 725.5 616.7 726.5 617.4C727.5 618.1 728 619.4 727.5 620.4C727 621.4 725 622.8 723.5 623.4C722 624 719.8 623.6 718.5 623.9C717.2 624.1 716.3 624.4 715.5 624.9C714.7 625.4 714.7 626.5 713.5 626.9C712.3 627.3 710 627.5 708.5 627.4C707 627.3 705.2 627 704.5 626.4C703.8 625.8 703.7 624.9 704 623.9Z"/>
<path d="M734.5 621.1C734.8 620.1 735.4 618.6 737 617.6C738.6 616.6 741.5 615.8 744 615.1C746.5 614.4 749.8 613.7 752 613.6C754.2 613.5 756 613.9 757 614.6C758 615.3 758.5 616.6 758 617.6C757.5 618.6 755.5 620 754 620.6C752.5 621.2 750.3 620.9 749 621.1C747.7 621.4 746.8 621.6 746 622.1C745.2 622.6 745.2 623.7 744 624.1C742.8 624.5 740.5 624.7 739 624.6C737.5 624.5 735.8 624.2 735 623.6C734.2 623 734.2 622.1 734.5 621.1Z"/>
<path d="M766.5 617.5C766.8 616.5 767.4 615 769 614C770.6 613 773.5 612.2 776 611.5C778.5 610.8 781.8 610.1 784 610C786.2 609.9 788 610.3 789 611C790 611.7 790.5 613 790 614C789.5 615 787.5 616.4 786 617C784.5 617.6 782.3 617.2 781 617.5C779.7 617.8 778.8 618 778 618.5C777.2 619 777.2 620.1 776 620.5C774.8 620.9 772.5 621.1 771 621C769.5 620.9 767.8 620.6 767 620C766.2 619.4 766.2 618.5 766.5 617.5Z"/>
<path d="M799 614.1C799.3 613.1 799.9 611.6 801.5 610.6C803.1 609.6 806 608.8 808.5 608.1C811 607.4 814.3 606.7 816.5 606.6C818.7 606.5 820.5 606.9 821.5 607.6C822.5 608.3 823 609.6 822.5 610.6C822 611.6 820 613 818.5 613.6C817 614.2 814.8 613.9 813.5 614.1C812.2 614.4 811.3 614.6 810.5 615.1C809.7 615.6 809.7 616.7 808.5 617.1C807.3 617.5 805 617.7 803.5 617.6C802 617.5 800.2 617.2 799.5 616.6C798.8 616 798.7 615.1 799 614.1Z"/>
<path d="M831.5 610.5C831.8 609.5 832.4 608 834 607C835.6 606 838.5 605.2 841 604.5C843.5 603.8 846.8 603.1 849 603C851.2 602.9 853 603.3 854 604C855 604.7 855.5 606 855 607C854.5 608 852.5 609.4 851 610C849.5 610.6 847.3 610.2 846 610.5C844.7 610.8 843.8 611 843 611.5C842.2 612 842.2 613.1 841 613.5C839.8 613.9 837.5 614.1 836 614C834.5 613.9 832.8 613.6 832 613C831.2 612.4 831.2 611.5 831.5 610.5Z"/>
<path d="M864 607.7C864.3 606.7 864.9 605.2 866.5 604.2C868.1 603.2 871 602.4 873.5 601.7C876 601 879.3 600.3 881.5 600.2C883.7 600.1 885.5 600.5 886.5 601.2C887.5 601.9 888 603.2 887.5 604.2C887 605.2 885 606.6 883.5 607.2C882 607.8 879.8 607.5 878.5 607.7C877.2 608 876.3 608.2 875.5 608.7C874.7 609.2 874.7 610.3 873.5 610.7C872.3 611.1 870 611.3 868.5 611.2C867 611.1 865.2 610.8 864.5 610.2C863.8 609.6 863.7 608.7 864 607.7Z"/>
</g>
</g>
<!-- clasp -->
<g id="clasp" filter="url(#soft)">
<ellipse cx="856.400" cy="427" rx="10.500" ry="5.200" transform="rotate(12 856.400 427)" fill="#fafafa" stroke="#1a1a1a" stroke-width="1.200"/>
<path d="M847 424.500L852 427.500M861 431L866 427" stroke="#000" stroke-width="2.200" fill="none"/>
<path d="M855.500 409L866.500 416L862 431.500L851.500 428.500Z" fill="#fff"/>
<path d="M857.500 411L852.800 428M862.500 414.500L858.500 431M866 418L864.500 425.500" stroke="#000" stroke-width="2.600" fill="none"/>
<path d="M841 395.500L846.500 400.500L854.700 407L863.500 412" stroke="#000" stroke-width="4" fill="none" stroke-linecap="round"/>
<path d="M872 420L877 417.800L892.600 417L893.400 421L877.800 421.300Z" fill="#000"/>
<path d="M848.500 385L858 384.500" stroke="#9a9a9a" stroke-width="2" fill="none"/>
<ellipse cx="871.200" cy="402.300" rx="27.400" ry="10.200" transform="rotate(27 871.200 402.300)" fill="#b1b1b1" stroke="#e3e3e3" stroke-width="2"/>
</g>
<!-- leader lines -->
<g id="leaders" fill="none" stroke="#8f8f8f" stroke-width="2">
<path d="M294 206.800H96.600V275"/><path d="M96.600 275V378" stroke="#5e5e5e" stroke-width="1.600"/>
<path d="M467.500 209H325.500V374"/>
<path d="M782 209H614V298.500" stroke="#999" stroke-width="2.500"/>
<path d="M789 285H868V393" stroke-width="1.600"/>
<path d="M107 560V693H285.300V446" stroke="#a8a8a8"/>
<path d="M297.500 693H405M348 693V436" stroke="#7d7d7d"/>
<path d="M572 693H460.600V539.500" stroke="#a0a0a0"/>
<path d="M782 693H891V619" stroke="#7d7d7d"/>
</g>
<g id="markers" fill="none" stroke-width="1.500">
<path d="M97 376.500Q104 380 103.500 386" stroke="#bdbdbd"/><path d="M97 376.500Q90.500 380 91 386" stroke="#bdbdbd"/>
<circle cx="325.500" cy="379.500" r="4.500" stroke="#777"/><circle cx="325.500" cy="379.500" r="2" fill="#222" stroke="none"/>
<rect x="610.300" y="299.300" width="9.400" height="9.400" rx="3" transform="rotate(45 615 304)" stroke="#7a7a7a" stroke-width="1.600"/>
<rect x="864" y="393.500" width="9" height="9" rx="2.500" transform="rotate(45 868.500 398)" stroke="#8e8e8e" fill="#c6c6c6"/><circle cx="868.500" cy="398" r="2.500" fill="#b0b0b0" stroke="none"/>
<rect x="102.300" y="550.300" width="9.400" height="9.400" rx="2.500" transform="rotate(45 107 555)" stroke="#9a9a9a"/>
<circle cx="287" cy="439" r="6.500" stroke="#cfcfcf" stroke-width="2"/>
<circle cx="348" cy="430.500" r="5" stroke="#8a8a8a"/><circle cx="348" cy="430.500" r="3" fill="#0a0a0a" stroke="none"/>
<circle cx="464.300" cy="533" r="6.600" stroke="#a8a8a8" stroke-width="1.800"/><circle cx="464.500" cy="532.500" r="3.200" fill="#f0d848" stroke="none"/><circle cx="464.800" cy="533" r="1.400" fill="#c89818" stroke="none"/>
<rect x="887.300" y="608.800" width="9.400" height="9.400" rx="2.500" transform="rotate(45 892 613.500)" stroke="#8a8a8a"/>
</g>

<g id="labels" style="opacity:0.999">
<text class="h1" y="62.2"><tspan x="164" textLength="193" lengthAdjust="spacingAndGlyphs">PROCESS,</tspan> <tspan x="369.5" textLength="84" lengthAdjust="spacingAndGlyphs">THE</tspan> <tspan x="461" textLength="162" lengthAdjust="spacingAndGlyphs">REFINED</tspan> <tspan x="636.5" textLength="196" lengthAdjust="spacingAndGlyphs">MOLDING</tspan></text>
<text class="h2" y="125.2"><tspan x="235.2" textLength="64.8" lengthAdjust="spacingAndGlyphs">THE</tspan> <tspan x="306.8" textLength="107.9" lengthAdjust="spacingAndGlyphs">TABLE</tspan> <tspan x="425.0" textLength="48.5" lengthAdjust="spacingAndGlyphs">OF</tspan> <tspan x="483.5" textLength="56.8" lengthAdjust="spacingAndGlyphs">THE</tspan> <tspan x="561.9" textLength="82.9" lengthAdjust="spacingAndGlyphs">RING</tspan> <tspan x="656.5" textLength="107.3" lengthAdjust="spacingAndGlyphs">INSIDE</tspan></text>
<text x="19" y="197.1" textLength="352" lengthAdjust="spacingAndGlyphs">CD grain capacitive touch sensing area</text>
<text y="200"><tspan x="390" textLength="92" lengthAdjust="spacingAndGlyphs">+ NORDIC</tspan> <tspan class="sf" x="488" textLength="59" lengthAdjust="spacingAndGlyphs">51822</tspan> <tspan x="550.5" textLength="82" lengthAdjust="spacingAndGlyphs">TAIWAN</tspan></text>
<text x="664" y="200.3" textLength="251" lengthAdjust="spacingAndGlyphs">Strap texture - the pyramid</text>
<text x="749" y="277.5" textLength="161" lengthAdjust="spacingAndGlyphs">CD GRAIN CLASP</text>
<text y="715.6"><tspan x="15" textLength="287" lengthAdjust="spacingAndGlyphs">o.66 the oled screen resolution of</tspan> <tspan class="sf s17" x="308.5" textLength="25" lengthAdjust="spacingAndGlyphs">64</tspan> <tspan class="sf s17" x="340" textLength="9" lengthAdjust="spacingAndGlyphs">*</tspan> <tspan class="sf s17" x="357" textLength="25" lengthAdjust="spacingAndGlyphs">48</tspan></text>
<text x="459" y="718.4" textLength="222" lengthAdjust="spacingAndGlyphs">Charging elastic contact</text>
<text x="751.5" y="724" textLength="229" lengthAdjust="spacingAndGlyphs">Pollution-free green TPU</text>
</g>

</svg>
</div>
</body>
</html>
